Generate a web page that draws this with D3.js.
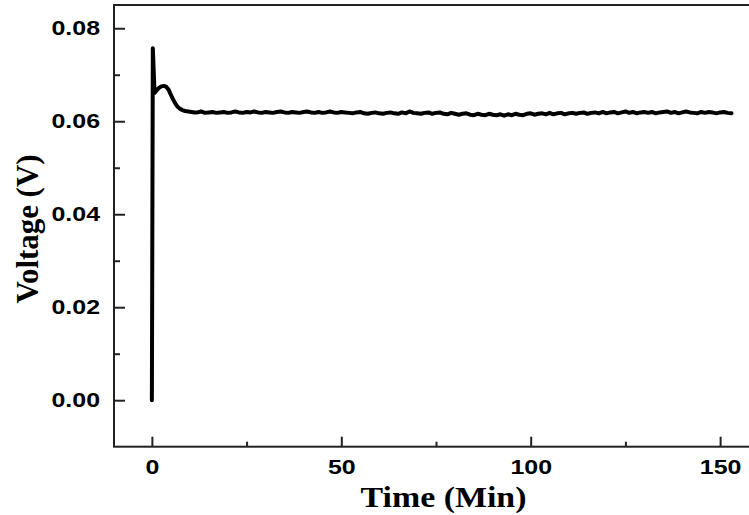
<!DOCTYPE html>
<html><head><meta charset="utf-8">
<script src="https://cdn.jsdelivr.net/npm/d3@7"></script>
<style>body{margin:0;background:#fff}svg{display:block}</style>
</head><body><svg id="c" width="749" height="515"></svg>
<script>
// Early transient (time in min, voltage in V)
const earlyTime = [0, 0.25, 0.5, 0.7, 1.2, 1.8, 2.5, 3.2, 3.8, 4.4, 5.0, 5.6, 6.2, 6.8, 7.4, 8.0, 8.8, 9.6, 10.5, 11.3];
const earlyVolt = [0, 0.0757, 0.0705, 0.0661, 0.0666, 0.0671, 0.0675, 0.0676, 0.0674, 0.0668, 0.0657, 0.0647, 0.0638, 0.0631, 0.0627, 0.0624, 0.0622, 0.0621, 0.0620, 0.0619];
// Steady region, sampled every minute from 12 to 153 min
const steadyStart = 12;
const steadyVolt = [
 0.0619,0.0621,0.0618,0.0619,0.0620,0.0618,0.0619,0.0620,0.0618,0.0619,0.0621,0.0619,0.0618,0.0620,0.0619,0.0621,0.0619,0.0618,0.0620,0.0619,
 0.0618,0.0620,0.0621,0.0619,0.0618,0.0620,0.0619,0.0618,0.0620,0.0621,0.0619,0.0618,0.0620,0.0618,0.0619,0.0621,0.0619,0.0618,0.0620,0.0619,
 0.0618,0.0617,0.0619,0.0620,0.0617,0.0616,0.0618,0.0619,0.0617,0.0616,0.0618,0.0619,0.0617,0.0616,0.0619,0.0617,0.0621,0.0618,0.0617,0.0616,
 0.0618,0.0619,0.0616,0.0618,0.0619,0.0616,0.0615,0.0618,0.0616,0.0614,0.0616,0.0617,0.0614,0.0613,0.0616,0.0614,0.0613,0.0616,0.0614,0.0613,
 0.0615,0.0612,0.0615,0.0613,0.0616,0.0614,0.0613,0.0616,0.0617,0.0614,0.0616,0.0617,0.0615,0.0618,0.0615,0.0617,0.0618,0.0615,0.0617,0.0618,
 0.0616,0.0618,0.0619,0.0616,0.0618,0.0619,0.0617,0.0620,0.0617,0.0619,0.0620,0.0617,0.0619,0.0621,0.0618,0.0620,0.0617,0.0619,0.0620,0.0618,
 0.0620,0.0617,0.0619,0.0620,0.0621,0.0618,0.0620,0.0617,0.0619,0.0621,0.0619,0.0618,0.0617,0.0620,0.0618,0.0620,0.0619,0.0617,0.0619,0.0620,0.0618,0.0617
];
const xMajorTicks = [0, 50, 100, 150];
const xMinorTicks = [25, 75, 125];
const yMajorTicks = [0, 0.02, 0.04, 0.06, 0.08];
const yMinorTicks = [0.01, 0.03, 0.05, 0.07];

const data = earlyTime.map((t, i) => ({t, v: earlyVolt[i]}))
  .concat(steadyVolt.map((v, i) => ({t: steadyStart + i, v})));

const svg = d3.select("#c");
const L = 114, T = 5, R = 758, B = 446.7;
const x = d3.scaleLinear().domain([-10, 160]).range([L, R]);
const y = d3.scaleLinear().domain([-0.01, 0.085]).range([B, T]);

const axisColor = "#222";
const sx = 1.28;
// frame
svg.append("rect").attr("x", L).attr("y", T).attr("width", R - L).attr("height", B - T)
  .attr("fill", "none").attr("stroke", axisColor).attr("stroke-width", 2);

// minor ticks
const gxm = svg.append("g").attr("transform", `translate(0,${B})`)
  .call(d3.axisBottom(x).tickValues(xMinorTicks).tickSize(-5).tickFormat(""));
const gym = svg.append("g").attr("transform", `translate(${L},0)`)
  .call(d3.axisLeft(y).tickValues(yMinorTicks).tickSize(-6).tickFormat(""));
// major ticks
const gx = svg.append("g").attr("transform", `translate(0,${B})`)
  .call(d3.axisBottom(x).tickValues(xMajorTicks).tickSize(-10).tickPadding(13).tickFormat(d3.format("d")));
const gy = svg.append("g").attr("transform", `translate(${L},0)`)
  .call(d3.axisLeft(y).tickValues(yMajorTicks).tickSize(-11).tickPadding(14).tickFormat(d3.format(".2f")));

[gxm, gym, gx, gy].forEach(g => {
  g.select(".domain").remove();
  g.selectAll(".tick line").attr("stroke", axisColor).attr("stroke-width", 2);
  g.selectAll("text").attr("font-family", "Liberation Sans, Arial, sans-serif")
    .attr("font-weight", "bold").attr("font-size", 19.5).attr("fill", "#000")
    .attr("transform", `scale(${sx},1)`);
});
gy.selectAll(".tick text").attr("x", -14 / sx);

// data line
svg.append("path").datum(data)
  .attr("fill", "none").attr("stroke", "#000").attr("stroke-width", 4)
  .attr("stroke-linejoin", "round").attr("stroke-linecap", "round")
  .attr("d", d3.line().x(d => x(d.t)).y(d => y(d.v)));

// axis titles
svg.append("text").attr("transform", "translate(443.5,506.7) scale(1.13,1)").attr("text-anchor", "middle")
  .attr("font-family", "Liberation Serif, Times New Roman, serif").attr("font-weight", "bold")
  .attr("font-size", 30).text("Time (Min)");
svg.append("text").attr("transform", "translate(38,229) rotate(-90) scale(1.03,1.08)").attr("text-anchor", "middle")
  .attr("font-family", "Liberation Serif, Times New Roman, serif").attr("font-weight", "bold")
  .attr("font-size", 30).text("Voltage (V)");
</script></body></html>
